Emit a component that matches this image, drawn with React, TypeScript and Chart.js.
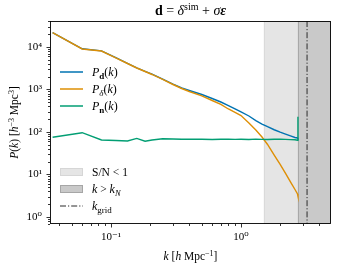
import React, { useEffect, useRef } from 'react';
import { Chart, registerables } from 'chart.js';
Chart.register(...registerables);

// ---- data ----
const kValues = [0.0356, 0.0601, 0.0846, 0.109, 0.134, 0.158, 0.183, 0.207, 0.25, 0.30, 0.35, 0.40, 0.50, 0.60, 0.70, 0.80, 0.90, 1.0, 1.15, 1.3, 1.45, 1.6, 1.8, 2.0, 2.2, 2.4, 2.6, 2.72, 2.74];
const pData = [21900, 9060, 8120, 5590, 4130, 3240, 2680, 2290, 1750, 1340, 1085, 947, 763, 614, 508, 420, 348, 296, 238, 186, 154, 133, 113, 99, 89, 81, 74.2, 72.2, 70.4];
const pSignal = [21700, 8980, 8050, 5540, 4090, 3205, 2650, 2255, 1720, 1311, 1055, 898, 711, 551, 444, 348, 288, 244, 163, 111, 76, 50.8, 28.7, 17.2, 10.6, 6.67, 4.44, 3.47, 3.12];
const pNoise = [75, 96.3, 64.8, 63.1, 61.4, 70.5, 60.5, 64.8, 69.5, 68.6, 67.3, 68, 67.5, 66.8, 67.4, 68, 67, 67.5, 66.5, 67.8, 67, 66.5, 67.5, 68, 67, 66, 65.5, 64, 229];

const kSN = 1.5;
const kNyq = 2.74;
const kGrid = 3.22;

const xMin = 0.034, xMax = 4.92;
const yMin = 0.684, yMax = 40900;
const xTickValues = [0.04, 0.05, 0.06, 0.07, 0.08, 0.09, 0.1, 0.2, 0.3, 0.4, 0.5, 0.6, 0.7, 0.8, 0.9, 1, 2, 3, 4];
const yTickValues = [0.7, 0.8, 0.9, 1, 2, 3, 4, 5, 6, 7, 8, 9, 10, 20, 30, 40, 50, 60, 70, 80, 90, 100, 200, 300, 400, 500, 600, 700, 800, 900, 1000, 2000, 3000, 4000, 5000, 6000, 7000, 8000, 9000, 10000, 20000, 30000, 40000];

const BLUE = '#0173b2';
const ORANGE = '#de8f05';
const GREEN = '#029e73';
const LIGHT = '#e5e5e5';
const DARK = '#c9c9c9';

const SERIF = '"Liberation Serif", "DejaVu Serif", serif';
const SUP: Record<string, string> = { '-': '⁻', '0': '⁰', '1': '¹', '2': '²', '3': '³', '4': '⁴' };

function isDecade(v: number) {
  const l = Math.log10(v);
  return Math.abs(l - Math.round(l)) < 1e-9;
}
function decadeLabel(v: number) {
  const e = String(Math.round(Math.log10(v)));
  return '10' + e.split('').map((c) => SUP[c] || c).join('');
}

type Run = { t: string; f: string; dy?: number };
function runsWidth(ctx: CanvasRenderingContext2D, runs: Run[]) {
  let w = 0;
  for (const r of runs) { ctx.font = r.f; w += ctx.measureText(r.t).width; }
  return w;
}
function drawRuns(ctx: CanvasRenderingContext2D, runs: Run[], x: number, y: number, align: 'left' | 'center') {
  const w = runsWidth(ctx, runs);
  let cx = align === 'center' ? x - w / 2 : x;
  ctx.textBaseline = 'alphabetic';
  ctx.textAlign = 'left';
  for (const r of runs) {
    ctx.font = r.f;
    ctx.fillText(r.t, cx, y + (r.dy || 0));
    cx += ctx.measureText(r.t).width;
  }
}
const F = (s: number, style = '') => `${style} ${s}px ${SERIF}`.trim();

const decorPlugin = {
  id: 'decor',
  beforeDatasetsDraw(chart: any) {
    const ctx = chart.ctx as CanvasRenderingContext2D;
    const xs = chart.scales.x;
    const { top, bottom, right } = chart.chartArea;
    const xSN = xs.getPixelForValue(kSN);
    const xN = xs.getPixelForValue(kNyq);
    const xG = xs.getPixelForValue(kGrid);
    ctx.save();
    ctx.fillStyle = LIGHT;
    ctx.fillRect(xSN, top, right - xSN, bottom - top);
    ctx.fillStyle = DARK;
    ctx.fillRect(xN, top, right - xN, bottom - top);
    ctx.lineWidth = 1;
    ctx.strokeStyle = '#d8d8d8';
    ctx.beginPath(); ctx.moveTo(xSN + 0.5, top); ctx.lineTo(xSN + 0.5, bottom); ctx.stroke();
    ctx.strokeStyle = '#a6a6a6';
    ctx.beginPath(); ctx.moveTo(xN + 0.5, top); ctx.lineTo(xN + 0.5, bottom); ctx.stroke();
    ctx.strokeStyle = '#2a2a2a';
    ctx.setLineDash([6, 2, 1.2, 2]);
    ctx.beginPath(); ctx.moveTo(xG, top); ctx.lineTo(xG, bottom); ctx.stroke();
    ctx.restore();
  },
  afterDraw(chart: any) {
    const ctx = chart.ctx as CanvasRenderingContext2D;
    const xs = chart.scales.x;
    const ys = chart.scales.y;
    const { left, right, top, bottom } = chart.chartArea;
    ctx.save();
    // frame
    ctx.strokeStyle = '#000';
    ctx.lineWidth = 0.9;
    ctx.strokeRect(left + 0.5, top + 0.5, right - left - 1, bottom - top - 1);
    // ticks
    ctx.lineWidth = 0.8;
    for (const v of xTickValues) {
      if (v < xMin || v > xMax) continue;
      const px = Math.round(xs.getPixelForValue(v)) + 0.5;
      const len = isDecade(v) ? 3.5 : 2;
      ctx.beginPath(); ctx.moveTo(px, bottom); ctx.lineTo(px, bottom + len); ctx.stroke();
    }
    for (const v of yTickValues) {
      if (v < yMin || v > yMax) continue;
      const py = Math.round(ys.getPixelForValue(v)) + 0.5;
      const len = isDecade(v) ? 3.5 : 2;
      ctx.beginPath(); ctx.moveTo(left, py); ctx.lineTo(left - len, py); ctx.stroke();
    }
    ctx.fillStyle = '#000';
    // title
    drawRuns(ctx, [
      { t: 'd', f: F(14, 'bold') },
      { t: ' = ', f: F(14) },
      { t: 'δ', f: F(14, 'italic') },
      { t: 'sim', f: F(10), dy: -5 },
      { t: ' + ', f: F(14) },
      { t: 'σ', f: F(14, 'italic') },
      { t: 'ε', f: F(14, 'bold italic') },
    ], (left + right) / 2, 14.5, 'center');
    // x label
    drawRuns(ctx, [
      { t: 'k', f: F(11.5, 'italic') },
      { t: ' [', f: F(11.5) },
      { t: 'h', f: F(11.5, 'italic') },
      { t: ' Mpc', f: F(11.5) },
      { t: '−1', f: F(8), dy: -4.5 },
      { t: ']', f: F(11.5) },
    ], (left + right) / 2, 260, 'center');
    // y label
    ctx.save();
    ctx.translate(18, (top + bottom) / 2);
    ctx.rotate(-Math.PI / 2);
    drawRuns(ctx, [
      { t: 'P', f: F(11.5, 'italic') },
      { t: '(', f: F(11.5) },
      { t: 'k', f: F(11.5, 'italic') },
      { t: ') [', f: F(11.5) },
      { t: 'h', f: F(11.5, 'italic') },
      { t: '−3', f: F(8), dy: -4.5 },
      { t: ' Mpc', f: F(11.5) },
      { t: '3', f: F(8), dy: -4.5 },
      { t: ']', f: F(11.5) },
    ], 0, 0, 'center');
    ctx.restore();

    // legend 1
    const lx0 = left + 10, lx1 = left + 33, tx = left + 42;
    const items: { c: string; sub: Run }[] = [
      { c: BLUE, sub: { t: 'd', f: F(9, 'bold'), dy: 2.5 } },
      { c: ORANGE, sub: { t: 'δ', f: F(9, 'italic'), dy: 2.5 } },
      { c: GREEN, sub: { t: 'n', f: F(9, 'bold'), dy: 2.5 } },
    ];
    const ly = [72, 89, 106];
    items.forEach((it, i) => {
      ctx.strokeStyle = it.c;
      ctx.lineWidth = 1.5;
      ctx.beginPath(); ctx.moveTo(lx0, ly[i]); ctx.lineTo(lx1, ly[i]); ctx.stroke();
      ctx.fillStyle = '#000';
      drawRuns(ctx, [
        { t: 'P', f: F(12, 'italic') },
        it.sub,
        { t: '(', f: F(12) },
        { t: 'k', f: F(12, 'italic') },
        { t: ')', f: F(12) },
      ], tx, ly[i] + 4, 'left');
    });
    // legend 2
    const by = [172, 189, 206];
    ctx.fillStyle = LIGHT;
    ctx.fillRect(lx0, by[0] - 4, lx1 - lx0, 8);
    ctx.strokeStyle = '#d6d6d6'; ctx.lineWidth = 1;
    ctx.strokeRect(lx0 + 0.5, by[0] - 4 + 0.5, lx1 - lx0 - 1, 7);
    ctx.fillStyle = DARK;
    ctx.fillRect(lx0, by[1] - 4, lx1 - lx0, 8);
    ctx.strokeStyle = '#a6a6a6';
    ctx.strokeRect(lx0 + 0.5, by[1] - 4 + 0.5, lx1 - lx0 - 1, 7);
    ctx.strokeStyle = '#2a2a2a';
    ctx.setLineDash([6, 2, 1.2, 2]);
    ctx.beginPath(); ctx.moveTo(lx0, by[2]); ctx.lineTo(lx1, by[2]); ctx.stroke();
    ctx.setLineDash([]);
    ctx.fillStyle = '#000';
    drawRuns(ctx, [{ t: 'S/N < 1', f: F(11.5) }], tx, by[0] + 4, 'left');
    drawRuns(ctx, [
      { t: 'k', f: F(12, 'italic') },
      { t: ' > ', f: F(11.5) },
      { t: 'k', f: F(12, 'italic') },
      { t: 'N', f: F(8.5, 'italic'), dy: 2.5 },
    ], tx, by[1] + 4, 'left');
    drawRuns(ctx, [
      { t: 'k', f: F(12, 'italic') },
      { t: 'grid', f: F(9), dy: 2.5 },
    ], tx, by[2] + 4, 'left');
    ctx.restore();
  },
};

export default function App() {
  const ref = useRef<HTMLCanvasElement>(null);
  useEffect(() => {
    if (!ref.current) return;
    const mk = (label: string, data: number[], color: string, order: number) => ({
      label,
      data: kValues.map((k, i) => ({ x: k, y: data[i] })),
      borderColor: color,
      backgroundColor: color,
      borderWidth: 1.4,
      pointRadius: 0,
      tension: 0,
      order,
    });
    const chart = new Chart(ref.current, {
      type: 'line',
      data: {
        datasets: [
          mk('P_d(k)', pData, BLUE, 3),
          mk('P_δ(k)', pSignal, ORANGE, 2),
          mk('P_n(k)', pNoise, GREEN, 1),
        ],
      },
      options: {
        animation: false,
        responsive: false,
        devicePixelRatio: 1,
        layout: { padding: { top: 21, right: 7, left: 0, bottom: 0 } },
        plugins: { legend: { display: false }, tooltip: { enabled: false }, title: { display: false } },
        scales: {
          x: {
            type: 'logarithmic',
            min: xMin,
            max: xMax,
            grid: { display: false, drawTicks: false },
            border: { display: false },
            afterBuildTicks: (s: any) => { s.ticks = xTickValues.filter((v) => v >= xMin && v <= xMax).map((v) => ({ value: v })); },
            afterFit: (s: any) => { s.height = 46; },
            ticks: {
              autoSkip: false,
              maxRotation: 0,
              padding: 7,
              color: '#000',
              font: { family: SERIF, size: 11 },
              callback: (v: any) => (isDecade(Number(v)) ? decadeLabel(Number(v)) : ''),
            },
          },
          y: {
            type: 'logarithmic',
            min: yMin,
            max: yMax,
            grid: { display: false, drawTicks: false },
            border: { display: false },
            afterBuildTicks: (s: any) => { s.ticks = yTickValues.filter((v) => v >= yMin && v <= yMax).map((v) => ({ value: v })); },
            afterFit: (s: any) => { s.width = 50; },
            ticks: {
              autoSkip: false,
              padding: 8,
              color: '#000',
              font: { family: SERIF, size: 11 },
              callback: (v: any) => (isDecade(Number(v)) ? decadeLabel(Number(v)) : ''),
            },
          },
        },
      },
      plugins: [decorPlugin],
    } as any);
    return () => chart.destroy();
  }, []);
  return (
    <div style={{ position: 'fixed', left: 0, top: 0, width: 338, height: 270, background: '#fff' }}>
      <canvas ref={ref} width={338} height={270} style={{ display: 'block' }} />
    </div>
  );
}
